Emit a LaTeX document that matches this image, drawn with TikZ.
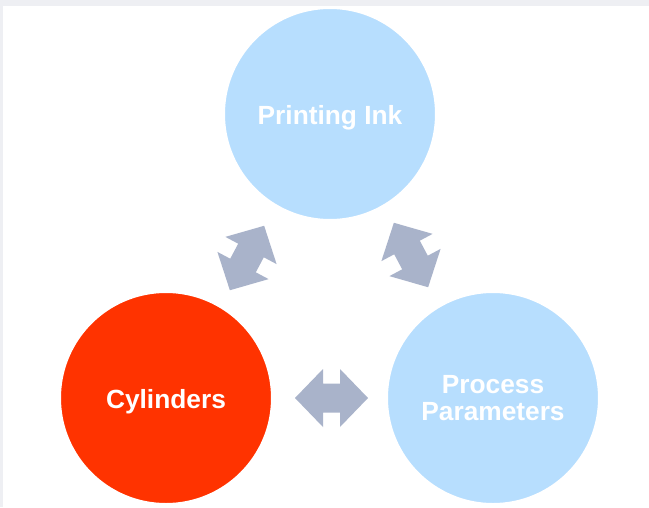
\documentclass[tikz,border=0pt]{standalone}
\usepackage{fontspec}
\setmainfont{Liberation Sans}
\definecolor{bgray}{HTML}{EEEFF3}
\definecolor{cblue}{HTML}{B7DEFE}
\definecolor{cred}{HTML}{FF3300}
\definecolor{agray}{HTML}{A9B3CA}
\tikzset{
  circ/.style={circle, minimum size=212pt, inner sep=0pt, draw=white, line width=2pt,
    text=white, font=\bfseries\fontsize{26.3pt}{27pt}\selectfont, align=center},
  oneline/.style={text height=25pt, text depth=5pt},
  darr/.style={fill=agray, draw=none}
}
\newcommand{\dblarrow}[3]{%
  \path[darr, shift={#1}, rotate=#2] (-36.5,0) -- (-8.5,29) -- (-8.5,14.5) -- (8.5,14.5) -- (8.5,29)
    -- (36.5,0) -- (8.5,-29) -- (8.5,-14.5) -- (-8.5,-14.5) -- (-8.5,-29) -- cycle;
  \coordinate (#3) at #1;}
\begin{document}
\begin{tikzpicture}[x=1pt,y=-1pt]
\fill[bgray] (0,0) rectangle (649,507);
\fill[white] (3,6) rectangle (649,507);
\useasboundingbox (0,0) rectangle (649,507);
\node[circ, oneline, fill=cblue] (ink) at (330,114) {Printing Ink};
\node[circ, oneline, fill=cred] (cyl) at (166,398) {Cylinders};
\node[circ, fill=cblue] (proc) at (493,398) {Process\\Parameters};
\dblarrow{(247,258)}{62}{a1}
\dblarrow{(411,255)}{118}{a2}
\dblarrow{(331.5,398)}{0}{a3}
\end{tikzpicture}
\end{document}
